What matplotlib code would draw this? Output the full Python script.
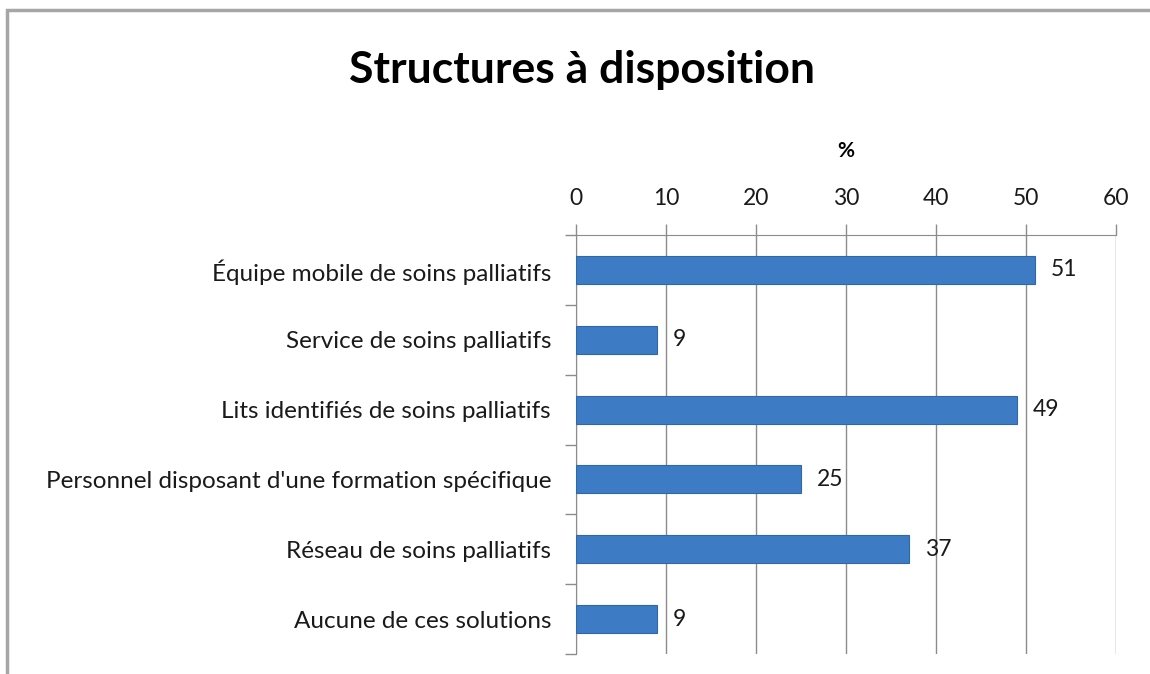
import matplotlib
matplotlib.use("Agg")
import matplotlib.pyplot as plt
from matplotlib.patches import Rectangle

categories = [
    "Équipe mobile de soins palliatifs",
    "Service de soins palliatifs",
    "Lits identifiés de soins palliatifs",
    "Personnel disposant d'une formation spécifique",
    "Réseau de soins palliatifs",
    "Aucune de ces solutions",
]
values = [51, 9, 49, 25, 37, 9]
xticks = [0, 10, 20, 30, 40, 50, 60]

plt.rcParams['font.family'] = ['Lato', 'DejaVu Sans']

fig = plt.figure(figsize=(11.5, 6.74), dpi=100)
fig.patches.append(Rectangle((7/1150, -0.1), 1.2, 1 - 10/674 + 0.1, transform=fig.transFigure,
                             fill=False, edgecolor='#a6a6a6', linewidth=2.5))
ax = fig.add_axes([576/1150, 20/674, 540/1150, (674-235-20)/674])

y = list(range(len(categories)))
bars = ax.barh(y, values, height=0.4, color='#3d7cc4', edgecolor='#2f68a8', linewidth=0.8, zorder=3)
for yi, v in zip(y, values):
    ax.text(v + 1.8, yi, str(v), va='center', ha='left', fontsize=16.5, color='#1a1a1a')

ax.set_ylim(len(categories) - 0.5, -0.5)
ax.set_xlim(0, 60)
ax.set_xticks(xticks)
ax.xaxis.tick_top()
ax.xaxis.set_label_position('top')
ax.set_xlabel('%', fontsize=15, fontweight='bold', labelpad=22)
ax.tick_params(axis='x', which='both', length=8, width=1, color='#8c8c8c', labelsize=16.5, pad=11, labelcolor='#1a1a1a')
ax.grid(axis='x', color='#8c8c8c', linewidth=1, zorder=0)

ax.set_yticks(y)
ax.set_yticklabels(categories, fontsize=17.5, color='#1a1a1a')
ax.set_yticks([i - 0.5 for i in range(len(categories) + 1)], minor=True)
ax.tick_params(axis='y', which='major', length=0, pad=18)
ax.tick_params(axis='y', which='minor', length=8, width=1, color='#8c8c8c')

for s in ['right', 'bottom']:
    ax.spines[s].set_visible(False)
ax.spines['left'].set_color('#8c8c8c')
ax.spines['top'].set_color('#8c8c8c')

fig.text(582/1150, 1 - 70/674, 'Structures à disposition', ha='center', va='center',
         fontsize=32, fontweight='bold', color='#000000')

fig.savefig('out.png', dpi=100)
